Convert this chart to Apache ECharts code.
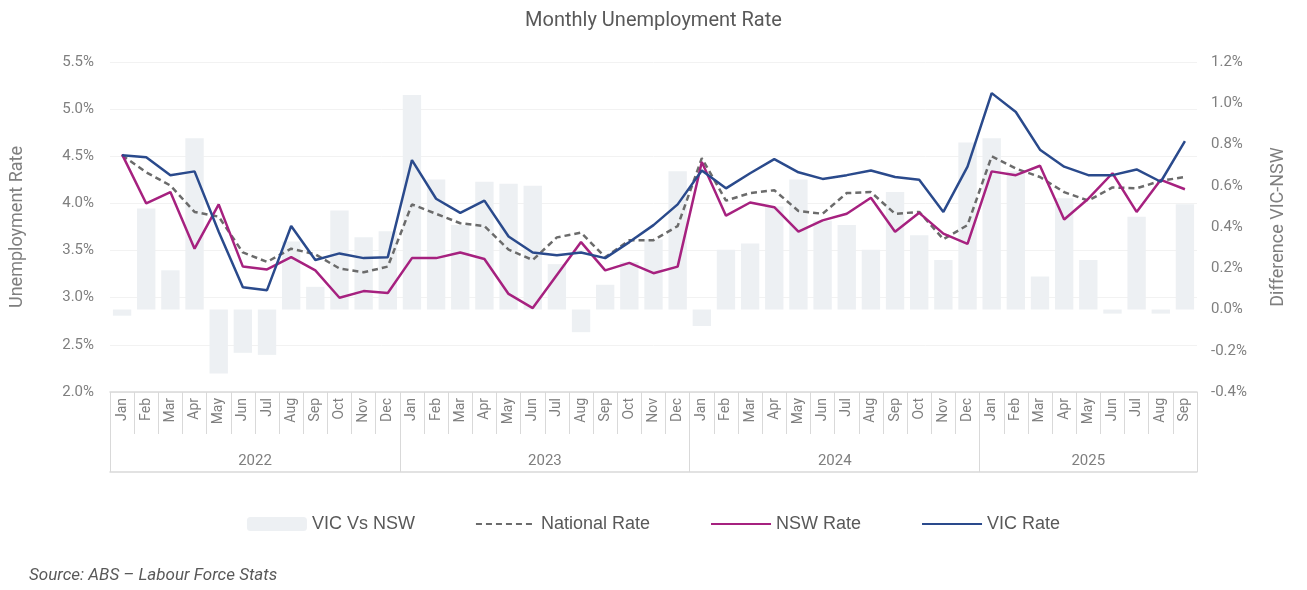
<!DOCTYPE html>
<html>
<head>
<meta charset="utf-8">
<script src="https://cdn.jsdelivr.net/npm/echarts@6/dist/echarts.min.js"></script>
<style>html,body{margin:0;background:#fff}#main{width:1307px;height:590px}</style>
</head>
<body>
<div id="main"></div>
<script>
var months = ["Jan","Feb","Mar","Apr","May","Jun","Jul","Aug","Sep","Oct","Nov","Dec"];
var category = [];
var years = [];
for (var y = 2022; y <= 2025; y++) {
  for (var m = 0; m < 12; m++) {
    if (y === 2025 && m > 8) break;
    category.push(months[m]);
    years.push(String(y));
  }
}
var vicRate = [4.51,4.49,4.30,4.34,3.70,3.11,3.08,3.76,3.40,3.47,3.42,3.43,
  4.46,4.05,3.90,4.03,3.65,3.48,3.45,3.48,3.42,3.59,3.77,3.99,
  4.35,4.16,4.32,4.47,4.33,4.26,4.30,4.35,4.28,4.25,3.91,4.39,
  5.17,4.97,4.57,4.39,4.30,4.30,4.36,4.23,4.66];
var nswRate = [4.52,4.00,4.12,3.52,3.99,3.33,3.30,3.43,3.29,3.00,3.07,3.05,
  3.42,3.42,3.48,3.41,3.04,2.89,3.24,3.59,3.29,3.37,3.26,3.33,
  4.44,3.87,4.01,3.96,3.70,3.82,3.89,4.06,3.70,3.90,3.68,3.57,
  4.34,4.30,4.40,3.83,4.05,4.32,3.91,4.25,4.15];
var nationalRate = [4.51,4.33,4.19,3.91,3.86,3.48,3.38,3.52,3.46,3.31,3.27,3.33,
  3.99,3.89,3.79,3.76,3.51,3.40,3.64,3.69,3.43,3.61,3.61,3.76,
  4.48,4.03,4.11,4.14,3.92,3.89,4.11,4.12,3.89,3.91,3.62,3.77,
  4.50,4.37,4.28,4.12,4.03,4.17,4.16,4.24,4.28];
var vicVsNsw = [-0.03,0.49,0.19,0.83,-0.31,-0.21,-0.22,0.33,0.11,0.48,0.35,0.38,
  1.04,0.63,0.41,0.62,0.61,0.60,0.22,-0.11,0.12,0.23,0.34,0.67,
  -0.08,0.29,0.32,0.50,0.63,0.43,0.41,0.29,0.57,0.36,0.24,0.81,
  0.83,0.67,0.16,0.54,0.24,-0.02,0.45,-0.02,0.51];

var txt = "#7f7f7f";
var font = "Roboto";
var hideSym = { opacity: 0 };
var myChart = echarts.init(document.getElementById("main"));
var option = {
  textStyle: { fontFamily: font },
  title: [
    { text: "Monthly Unemployment Rate", left: "center", top: 6,
      textStyle: { fontSize: 20, fontWeight: "normal", color: "#595959", fontFamily: font } },
    { text: "Source: ABS – Labour Force Stats", left: 24, top: 562,
      textStyle: { fontSize: 17, fontWeight: "normal", fontStyle: "italic", color: "#595959", fontFamily: font } }
  ],
  legend: {
    bottom: 52, left: "center", itemGap: 60, itemWidth: 60, itemHeight: 14,
    textStyle: { fontSize: 18, color: "#595959", fontFamily: "Liberation Sans" },
    data: [
      { name: "VIC Vs NSW" },
      { name: "National Rate", itemStyle: hideSym },
      { name: "NSW Rate", itemStyle: hideSym },
      { name: "VIC Rate", itemStyle: hideSym }
    ]
  },
  grid: { left: 104, right: 110, top: 62, bottom: 198 },
  xAxis: [
    { type: "category", data: category, position: "bottom",
      axisLine: { onZero: false, lineStyle: { color: "#d9d9d9", width: 1.5 } },
      axisTick: { show: true, length: 42, lineStyle: { color: "#d9d9d9" } },
      axisLabel: { rotate: 90, color: txt, fontSize: 14, margin: 6, verticalAlign: "middle", align: "right" } },
    { type: "category", data: years, position: "bottom",
      axisLine: { show: false, onZero: false },
      axisTick: { show: true, length: 80, interval: function (i) { return i % 12 === 0; }, lineStyle: { color: "#d9d9d9" } },
      axisLabel: { margin: 62, color: txt, fontSize: 15,
        interval: function (i) { return i === 6 || i === 18 || i === 30 || i === 40; },
        formatter: function (v, i) { return i === 40 ? v : "{s|" + v + "}"; },
        rich: { s: { padding: [0, 24, 0, 0], color: txt, fontSize: 15 } } } },
    { type: "category", data: years, position: "bottom", offset: 80,
      axisLine: { onZero: false, lineStyle: { color: "#d9d9d9", width: 1.5 } },
      axisTick: { show: false }, axisLabel: { show: false } }
  ],
  yAxis: [
    { type: "value", min: 2, max: 5.5, interval: 0.5, name: "Unemployment Rate",
      nameLocation: "middle", nameGap: 84, nameTextStyle: { fontSize: 18, color: txt },
      axisLabel: { formatter: function (v) { return v.toFixed(1) + "%"; }, color: txt, fontSize: 15, margin: 16 },
      splitLine: { lineStyle: { color: "#f2f2f2" } } },
    { type: "value", min: -0.4, max: 1.2, interval: 0.2, name: "Difference VIC-NSW",
      nameLocation: "middle", nameGap: 72, nameTextStyle: { fontSize: 18, color: txt },
      axisLabel: { formatter: function (v) { return v.toFixed(1) + "%"; }, color: txt, fontSize: 15, margin: 14 },
      splitLine: { show: false } }
  ],
  series: [
    { name: "VIC Vs NSW", type: "bar", yAxisIndex: 1, data: vicVsNsw, barWidth: "76%",
      itemStyle: { color: "#edf0f3" } },
    { name: "National Rate", type: "line", data: nationalRate, symbol: "none",
      lineStyle: { color: "#6b6b6b", width: 2.5, type: [6, 4] }, itemStyle: { color: "#6b6b6b" } },
    { name: "NSW Rate", type: "line", data: nswRate, symbol: "none",
      lineStyle: { color: "#a6217f", width: 2.5 }, itemStyle: { color: "#a6217f" } },
    { name: "VIC Rate", type: "line", data: vicRate, symbol: "none",
      lineStyle: { color: "#2a4a8c", width: 2.5 }, itemStyle: { color: "#2a4a8c" } }
  ]
};
option && myChart.setOption(option);
</script>
</body>
</html>
